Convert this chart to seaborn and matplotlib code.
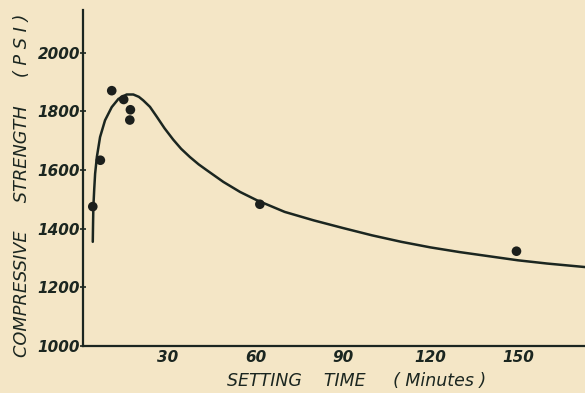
import matplotlib
matplotlib.use("Agg")
import matplotlib.pyplot as plt
import seaborn as sns
import pandas as pd

# Measured data points
point_time = [4.2, 6.8, 10.7, 14.8, 17.1, 16.9, 61.5, 149.5]
point_strength = [1475, 1633, 1870, 1840, 1805, 1770, 1483, 1323]

# Fitted curve
curve_time = [4.2, 4.3, 4.4, 4.7, 5.0, 5.6, 6.7, 8.4, 10.7, 13.0, 15.8, 18.1, 20.0,
              21.5, 23.8, 26.1, 28.8, 31.8, 34.5, 37.5, 40.5, 43.3, 49.0, 54.7, 60.4,
              70.0, 80.0, 90.0, 100.0, 110.0, 120.0, 130.0, 140.0, 150.0, 160.0, 173.0]
curve_strength = [1355, 1420, 1474, 1535, 1587, 1644, 1712, 1769, 1814, 1842, 1857, 1857, 1849,
                  1837, 1815, 1782, 1742, 1703, 1672, 1644, 1619, 1599, 1559, 1525, 1497,
                  1457, 1428, 1402, 1377, 1355, 1336, 1320, 1306, 1292, 1281, 1269]

x_ticks = [30, 60, 90, 120, 150]
y_ticks = [1000, 1200, 1400, 1600, 1800, 2000]

bg = "#f4e6c6"
ink = "#1b2620"

sns.set_theme(style="white")
plt.rcParams["font.family"] = ["DejaVu Sans"]

fig = plt.figure(figsize=(5.85, 3.93), dpi=100, facecolor=bg)
ax = fig.add_axes([0.1414, 0.1196, 0.8586, 0.855])
ax.set_facecolor(bg)

curve = pd.DataFrame({"t": curve_time, "s": curve_strength})
pts = pd.DataFrame({"t": point_time, "s": point_strength})

sns.lineplot(data=curve, x="t", y="s", ax=ax, color=ink, linewidth=1.8, sort=False)
sns.scatterplot(data=pts, x="t", y="s", ax=ax, color="#1c1f1c", s=48, edgecolor="none", zorder=3)

ax.set_xlim(0.75, 173)
ax.set_ylim(1000, 2145)
ax.set_xticks(x_ticks)
ax.set_yticks(y_ticks)
ax.set_xticklabels([str(v) for v in x_ticks], fontsize=11, style="italic",
                   fontweight="bold", color=ink)
ax.set_yticklabels([str(v) for v in y_ticks], fontsize=11, style="italic",
                   fontweight="bold", color=ink)
ax.tick_params(axis="y", length=4, width=1.2, color=ink, pad=0, direction="inout", left=True)
ax.tick_params(axis="x", length=0, pad=3)

for s in ["top", "right"]:
    ax.spines[s].set_visible(False)
for s in ["left", "bottom"]:
    ax.spines[s].set_color(ink)
    ax.spines[s].set_linewidth(1.6)

ax.set_xlabel("")
ax.set_ylabel("")
ax.text(0.546, -0.104, "SETTING    TIME     ( Minutes )", transform=ax.transAxes,
        fontsize=12.5, style="italic", color=ink, ha="center", va="center")
ax.text(-0.121, 0.479, "COMPRESSIVE     STRENGTH     ( P S I )", transform=ax.transAxes,
        fontsize=12.8, style="italic", color=ink, ha="center", va="center", rotation=90)
ax.grid(False)

fig.savefig("out.png", dpi=100, facecolor=bg)
